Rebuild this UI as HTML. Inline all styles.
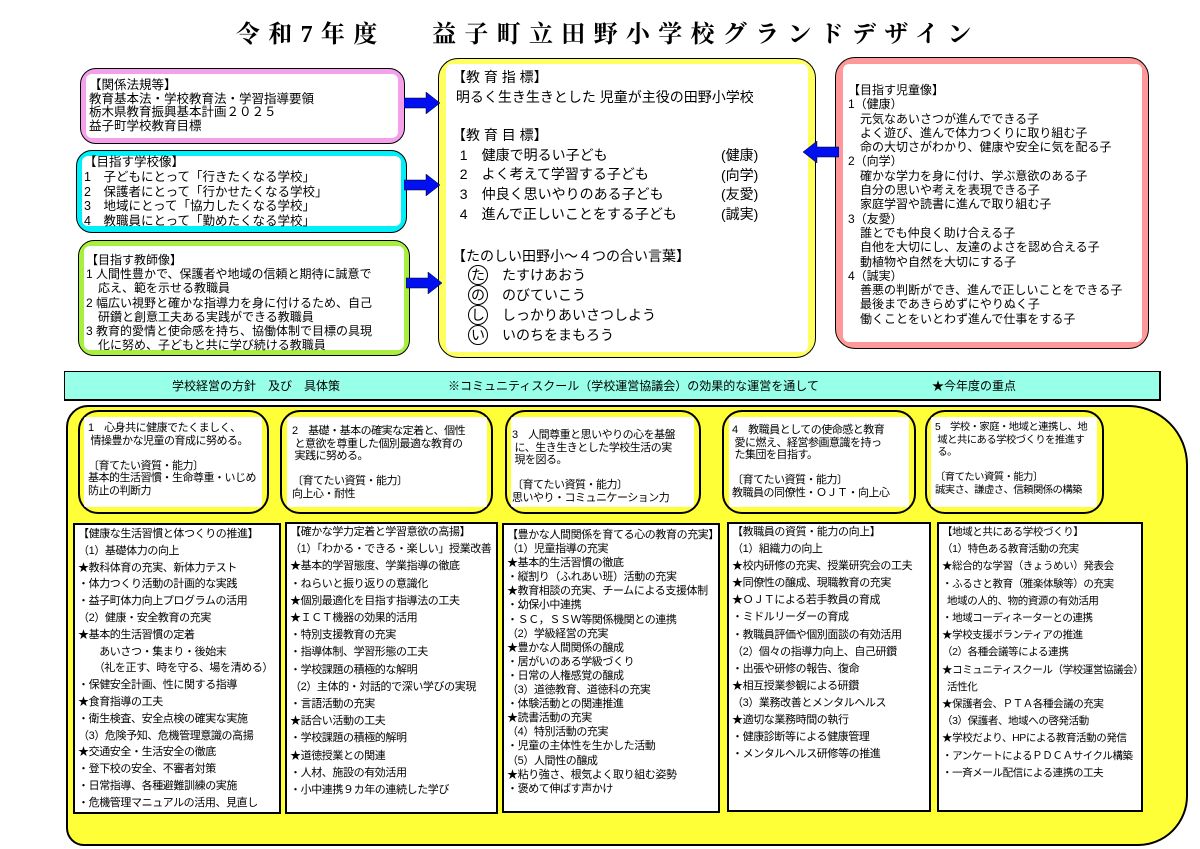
<!DOCTYPE html>
<html><head><meta charset="utf-8">
<style>
*{margin:0;padding:0;box-sizing:border-box}
body{width:1200px;height:849px;background:#fff;position:relative;overflow:hidden;font-family:"Liberation Sans","Noto Sans CJK JP",sans-serif;color:#000}
.a{position:absolute}
.title{left:236px;top:20px;font-family:"Liberation Serif","Noto Serif CJK SC",serif;font-weight:bold;font-size:24px;letter-spacing:8.3px;white-space:nowrap;line-height:30px}
.rb{position:absolute;border:1.5px solid #000;border-radius:16px}
.in{position:absolute;background:#fff;border-radius:6px}
.t{position:absolute;white-space:nowrap;font-size:12.5px;line-height:13px}
.arr{position:absolute;width:36px;height:22px}
.col{position:absolute;border:2px solid #000;background:#fff;font-size:11px;white-space:nowrap;padding:3px 0 0 3px;letter-spacing:-0.4px;overflow:hidden}
.circ{display:inline-block;width:20px;height:20px;border:1px solid #000;border-radius:50%;text-align:center;line-height:18px;margin-right:14px}
.fb{font-size:11px;letter-spacing:-0.5px;line-height:12.5px}
</style></head><body>
<div class="a title">令和7年度　 益子町立田野小学校グランドデザイン</div>

<!-- pink left -->
<div class="rb" style="left:80px;top:68px;width:325px;height:76px;background:#f5a0ea"></div>
<div class="in" style="left:86px;top:74px;width:312px;height:64px"></div>
<div class="t" style="left:89px;top:79px;line-height:13.5px">【関係法規等】<br>教育基本法・学校教育法・学習指導要領<br>栃木県教育振興基本計画２０２５<br>益子町学校教育目標</div>

<!-- cyan left -->
<div class="rb" style="left:76px;top:150px;width:331px;height:83px;background:#00f0f8"></div>
<div class="in" style="left:82px;top:156px;width:319px;height:70px"></div>
<div class="t" style="left:84px;top:155px;font-size:12.5px;line-height:14.8px">【目指す学校像】<br>1　子どもにとって「行きたくなる学校」<br>2　保護者にとって「行かせたくなる学校」<br>3　地域にとって「協力したくなる学校」<br>4　教職員にとって「勤めたくなる学校」</div>

<!-- green left -->
<div class="rb" style="left:78px;top:240px;width:332px;height:116px;background:#a8f040"></div>
<div class="in" style="left:84px;top:246px;width:320px;height:104px"></div>
<div class="t" style="left:86px;top:253px;font-size:12px;line-height:14.2px">【目指す教師像】<br>1 人間性豊かで、保護者や地域の信頼と期待に誠意で<br>　応え、範を示せる教職員<br>2 幅広い視野と確かな指導力を身に付けるため、自己<br>　研鑽と創意工夫ある実践ができる教職員<br>3 教育的愛情と使命感を持ち、協働体制で目標の具現<br>　化に努め、子どもと共に学び続ける教職員</div>

<!-- center yellow -->
<div class="rb" style="left:438px;top:58px;width:378px;height:300px;background:#ffff60;border-radius:20px"></div>
<div class="in" style="left:446px;top:64px;width:362px;height:288px"></div>
<div class="t" style="left:452px;top:67px;font-size:14px;line-height:20px">【教 育 指 標】<br>&nbsp;明るく生き生きとした 児童が主役の田野小学校</div>
<div class="t" style="left:452px;top:126px;font-size:14px;line-height:19.7px">【教 育 目 標】<br>&nbsp; 1　健康で明るい子ども<br>&nbsp; 2　よく考えて学習する子ども<br>&nbsp; 3　仲良く思いやりのある子ども<br>&nbsp; 4　進んで正しいことをする子ども</div>
<div class="t" style="left:721px;top:146px;font-size:14px;line-height:19.7px">(健康)<br>(向学)<br>(友愛)<br>(誠実)</div>
<div class="t" style="left:452px;top:246px;font-size:14px;line-height:20px">【たのしい田野小～４つの合い言葉】</div>
<div class="t" style="left:468px;top:265px;font-size:14px;line-height:20px"><span class="circ">た</span>たすけあおう<br><span class="circ">の</span>のびていこう<br><span class="circ">し</span>しっかりあいさつしよう<br><span class="circ">い</span>いのちをまもろう</div>

<!-- pink right -->
<div class="rb" style="left:835px;top:57px;width:314px;height:292px;background:#ff9898;border-radius:20px"></div>
<div class="in" style="left:843px;top:64px;width:299px;height:278px"></div>
<div class="t" style="left:848px;top:83px;font-size:12px;line-height:14.3px">【目指す児童像】<br>1（健康）<br>　元気なあいさつが進んでできる子<br>　よく遊び、進んで体力つくりに取り組む子<br>　命の大切さがわかり、健康や安全に気を配る子<br>2（向学）<br>　確かな学力を身に付け、学ぶ意欲のある子<br>　自分の思いや考えを表現できる子<br>　家庭学習や読書に進んで取り組む子<br>3（友愛）<br>　誰とでも仲良く助け合える子<br>　自他を大切にし、友達のよさを認め合える子<br>　動植物や自然を大切にする子<br>4（誠実）<br>　善悪の判断ができ、進んで正しいことをできる子<br>　最後まであきらめずにやりぬく子<br>　働くことをいとわず進んで仕事をする子</div>

<!-- arrows -->
<svg class="arr" style="left:404px;top:92px" viewBox="0 0 36 22"><polygon points="0,6 22,6 22,0 36,11 22,22 22,16 0,16" fill="#0010f0" stroke="#000" stroke-width="0.5"/></svg>
<svg class="arr" style="left:404px;top:174px" viewBox="0 0 36 22"><polygon points="0,6 22,6 22,0 36,11 22,22 22,16 0,16" fill="#0010f0" stroke="#000" stroke-width="0.5"/></svg>
<svg class="arr" style="left:406px;top:272px" viewBox="0 0 36 22"><polygon points="0,6 22,6 22,0 36,11 22,22 22,16 0,16" fill="#0010f0" stroke="#000" stroke-width="0.5"/></svg>
<svg class="arr" style="left:803px;top:141px" viewBox="0 0 36 22"><polygon points="36,6 14,6 14,0 0,11 14,22 14,16 36,16" fill="#0010f0" stroke="#000" stroke-width="0.5"/></svg>

<!-- banner -->
<div class="a" style="left:64px;top:371px;width:1097px;height:30px;background:#98ffe8;border:1.5px solid #000;border-right-width:2.5px;border-bottom-width:2.5px"></div>
<div class="t" style="left:172px;top:380px;font-size:12px">学校経営の方針　及び　具体策</div>
<div class="t" style="left:448px;top:380px;font-size:12px">※コミュニティスクール（学校運営協議会）の効果的な運営を通して</div>
<div class="t" style="left:932px;top:380px;font-size:12px">★今年度の重点</div>

<!-- big yellow -->
<div class="a" style="left:66px;top:405px;width:1122px;height:441px;background:#ffff38;border:2px solid #000;border-radius:22px 60px 50px 18px"></div>

<!-- five boxes -->
<div class="rb" style="left:78px;top:410px;width:191px;height:104px;background:#ffff38;border-width:2px;border-radius:20px"></div>
<div class="in" style="left:84px;top:417px;width:178px;height:90px;border-radius:2px"></div>
<div class="t fb" style="left:88px;top:422px">1　心身共に健康でたくましく、<br>&nbsp;情操豊かな児童の育成に努める。<br><br>〔育てたい資質・能力〕<br>基本的生活習慣・生命尊重・いじめ<br>防止の判断力</div>

<div class="rb" style="left:280px;top:410px;width:213px;height:104px;background:#ffff38;border-width:2px;border-radius:20px"></div>
<div class="in" style="left:287px;top:417px;width:200px;height:90px;border-radius:2px"></div>
<div class="t fb" style="left:292px;top:425px">2　基礎・基本の確実な定着と、個性<br>&nbsp;と意欲を尊重した個別最適な教育の<br>&nbsp;実践に努める。<br><br>〔育てたい資質・能力〕<br>向上心・耐性</div>

<div class="rb" style="left:505px;top:410px;width:196px;height:104px;background:#ffff38;border-width:2px;border-radius:20px"></div>
<div class="in" style="left:511px;top:417px;width:183px;height:90px;border-radius:2px"></div>
<div class="t fb" style="left:512px;top:429px">3　人間尊重と思いやりの心を基盤<br>&nbsp;に、生き生きとした学校生活の実<br>&nbsp;現を図る。<br><br>〔育てたい資質・能力〕<br>思いやり・コミュニケーション力</div>

<div class="rb" style="left:722px;top:410px;width:194px;height:104px;background:#ffff38;border-width:2px;border-radius:20px"></div>
<div class="in" style="left:729px;top:417px;width:180px;height:90px;border-radius:2px"></div>
<div class="t fb" style="left:732px;top:424px">4　教職員としての使命感と教育<br>&nbsp;愛に燃え、経営参画意識を持っ<br>&nbsp;た集団を目指す。<br><br>〔育てたい資質・能力〕<br>教職員の同僚性・ＯＪＴ・向上心</div>

<div class="rb" style="left:925px;top:410px;width:179px;height:104px;background:#ffff38;border-width:2px;border-radius:20px"></div>
<div class="in" style="left:931px;top:417px;width:166px;height:90px;border-radius:2px"></div>
<div class="t fb" style="left:935px;top:422px;font-size:10.3px">5　学校・家庭・地域と連携し、地<br>&nbsp;域と共にある学校づくりを推進す<br>&nbsp;る。<br><br>〔育てたい資質・能力〕<br>誠実さ、謙虚さ、信頼関係の構築</div>

<!-- columns -->
<div class="col" style="left:73px;top:523px;width:208px;height:291px;line-height:16.8px;padding-top:1px">【健康な生活習慣と体つくりの推進】<br>（1）基礎体力の向上<br>★教科体育の充実、新体力テスト<br>・体力つくり活動の計画的な実践<br>・益子町体力向上プログラムの活用<br>（2）健康・安全教育の充実<br>★基本的生活習慣の定着<br>　　あいさつ・集まり・後始末<br>　　（礼を正す、時を守る、場を清める）<br>・保健安全計画、性に関する指導<br>★食育指導の工夫<br>・衛生検査、安全点検の確実な実施<br>（3）危険予知、危機管理意識の高揚<br>★交通安全・生活安全の徹底<br>・登下校の安全、不審者対策<br>・日常指導、各種避難訓練の実施<br>・危機管理マニュアルの活用、見直し</div>

<div class="col" style="left:285px;top:522px;width:213px;height:292px;line-height:17.2px;padding-top:0">【確かな学力定着と学習意欲の高揚】<br>（1）「わかる・できる・楽しい」授業改善<br>★基本的学習態度、学業指導の徹底<br>・ねらいと振り返りの意識化<br>★個別最適化を目指す指導法の工夫<br>★ＩＣＴ機器の効果的活用<br>・特別支援教育の充実<br>・指導体制、学習形態の工夫<br>・学校課題の積極的な解明<br>（2）主体的・対話的で深い学びの実現<br>・言語活動の充実<br>★話合い活動の工夫<br>・学校課題の積極的解明<br>★道徳授業との関連<br>・人材、施設の有効活用<br>・小中連携９カ年の連続した学び</div>

<div class="col" style="left:502px;top:523px;width:218px;height:290px;line-height:14.1px">【豊かな人間関係を育てる心の教育の充実】<br>（1）児童指導の充実<br>★基本的生活習慣の徹底<br>・縦割り（ふれあい班）活動の充実<br>★教育相談の充実、チームによる支援体制<br>・幼保小中連携<br>・ＳＣ，ＳＳＷ等関係機関との連携<br>（2）学級経営の充実<br>★豊かな人間関係の醸成<br>・居がいのある学級づくり<br>・日常の人権感覚の醸成<br>（3）道徳教育、道徳科の充実<br>・体験活動との関連推進<br>★読書活動の充実<br>（4）特別活動の充実<br>・児童の主体性を生かした活動<br>（5）人間性の醸成<br>★粘り強さ、根気よく取り組む姿勢<br>・褒めて伸ばす声かけ</div>

<div class="col" style="left:727px;top:522px;width:204px;height:290px;line-height:17.1px;padding-top:0">【教職員の資質・能力の向上】<br>（1）組織力の向上<br>★校内研修の充実、授業研究会の工夫<br>★同僚性の醸成、現職教育の充実<br>★ＯＪＴによる若手教員の育成<br>・ミドルリーダーの育成<br>・教職員評価や個別面談の有効活用<br>（2）個々の指導力向上、自己研鑽<br>・出張や研修の報告、復命<br>★相互授業参観による研鑽<br>（3）業務改善とメンタルヘルス<br>★適切な業務時間の執行<br>・健康診断等による健康管理<br>・メンタルヘルス研修等の推進</div>

<div class="col" style="left:937px;top:522px;width:206px;height:290px;line-height:17.2px;padding-top:0;font-size:10.5px">【地域と共にある学校づくり】<br>（1）特色ある教育活動の充実<br>★総合的な学習（きょうめい）発表会<br>・ふるさと教育（雅楽体験等）の充実<br>&nbsp;&nbsp;地域の人的、物的資源の有効活用<br>・地域コーディネーターとの連携<br>★学校支援ボランティアの推進<br>（2）各種会議等による連携<br>★コミュニティスクール（学校運営協議会）<br>&nbsp;&nbsp;活性化<br>★保護者会、ＰＴＡ各種会議の充実<br>（3）保護者、地域への啓発活動<br>★学校だより、HPによる教育活動の発信<br>・アンケートによるＰＤＣＡサイクル構築<br>・一斉メール配信による連携の工夫</div>

</body></html>
